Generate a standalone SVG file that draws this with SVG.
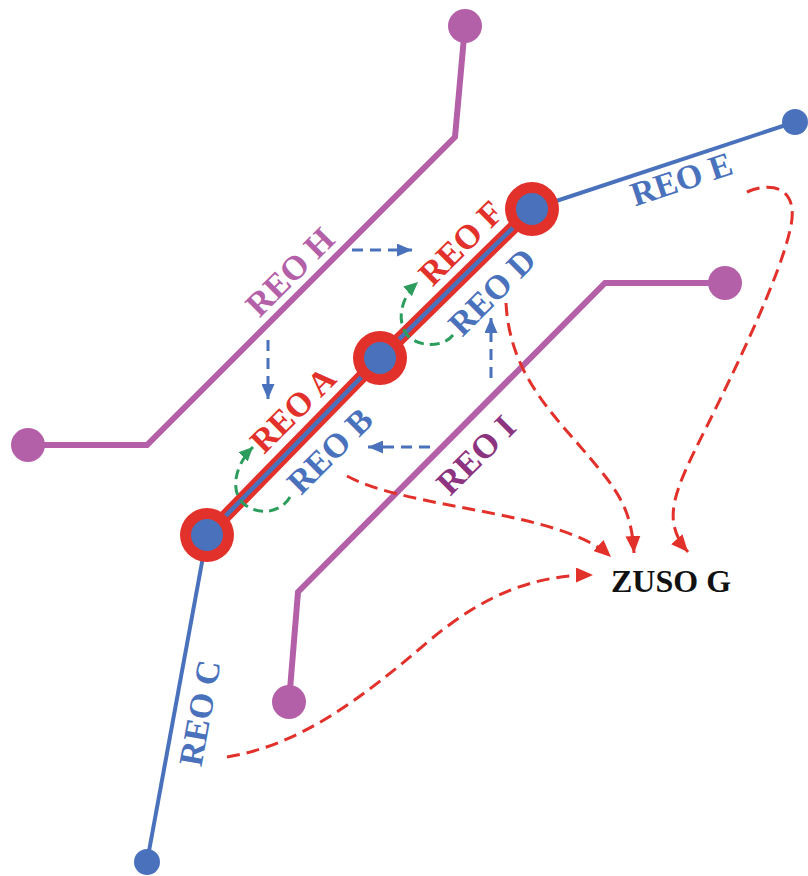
<svg xmlns="http://www.w3.org/2000/svg" width="808" height="876" viewBox="0 0 808 876">
<style>
.lbl{font-family:"Liberation Serif","Times New Roman",serif;font-weight:bold;font-size:34px;text-anchor:middle}
.pur{fill:none;stroke:#B460A8;stroke-width:6;stroke-linejoin:miter}
.blu{fill:none;stroke:#4A72BC;stroke-width:4}
.rdash{fill:none;stroke:#E2302A;stroke-width:3;stroke-dasharray:13 7}
.bdash{fill:none;stroke:#4A72BC;stroke-width:3;stroke-dasharray:11 7}
.gdash{fill:none;stroke:#2C9D5C;stroke-width:3;stroke-dasharray:10 6}
</style>
<defs>
<marker id="ar" markerUnits="userSpaceOnUse" markerWidth="17" markerHeight="15" refX="17" refY="7.5" orient="auto"><path d="M0,0 L17,7.5 L0,15 z" fill="#E2302A"/></marker>
<marker id="ab" markerUnits="userSpaceOnUse" markerWidth="15" markerHeight="13" refX="15" refY="6.5" orient="auto"><path d="M0,0 L15,6.5 L0,13 z" fill="#4A72BC"/></marker>
<marker id="ag" markerUnits="userSpaceOnUse" markerWidth="14" markerHeight="13" refX="14" refY="6.5" orient="auto"><path d="M0,0 L14,6.5 L0,13 z" fill="#2C9D5C"/></marker>
</defs>
<rect width="808" height="876" fill="#ffffff"/>

<g id="reo-h">
<polyline class="pur" points="465,26 455,137 147,445 28,445"/>
<circle cx="465" cy="26" r="17" fill="#B460A8"/>
<circle cx="28" cy="445" r="17" fill="#B460A8"/>
<text class="lbl" fill="#B460A8" transform="translate(298,280) rotate(-45)">REO H</text>
</g>

<g id="reo-i">
<polyline class="pur" points="725,283 605,283 298,592 289,702"/>
<circle cx="725" cy="283" r="17" fill="#B460A8"/>
<circle cx="289" cy="702" r="17" fill="#B460A8"/>
<text class="lbl" fill="#8C3480" transform="translate(484,463) rotate(-45)">REO I</text>
</g>

<g id="reo-c">
<line class="blu" x1="207" y1="535" x2="147" y2="862"/>
<circle cx="147" cy="862" r="13" fill="#4A72BC"/>
<text class="lbl" fill="#4A72BC" transform="translate(211,715) rotate(-79.6)">REO C</text>
</g>

<g id="reo-e">
<line class="blu" x1="532" y1="209" x2="795" y2="122"/>
<circle cx="795" cy="122" r="13" fill="#4A72BC"/>
<text class="lbl" fill="#4A72BC" transform="translate(685,190) rotate(-18.4)">REO E</text>
</g>

<g id="reo-ab">
<line x1="207" y1="535" x2="380" y2="358" stroke="#E2302A" stroke-width="13"/>
<line x1="207" y1="535" x2="380" y2="358" stroke="#4A72BC" stroke-width="4.5"/>
<text class="lbl" fill="#E2302A" transform="translate(301,418) rotate(-45)">REO A</text>
<text class="lbl" fill="#4A72BC" transform="translate(338,459) rotate(-45)">REO B</text>
</g>

<g id="reo-fd">
<line x1="380" y1="358" x2="532" y2="209" stroke="#E2302A" stroke-width="13"/>
<line x1="380" y1="358" x2="532" y2="209" stroke="#4A72BC" stroke-width="4.5"/>
<text class="lbl" fill="#E2302A" transform="translate(469,251) rotate(-45)">REO F</text>
<text class="lbl" fill="#4A72BC" transform="translate(500,300) rotate(-45)">REO D</text>
</g>

<g id="node-1">
<circle cx="207" cy="535" r="27" fill="#E2302A"/>
<circle cx="207" cy="535" r="16" fill="#4A72BC"/>
</g>
<g id="node-2">
<circle cx="380" cy="358" r="27" fill="#E2302A"/>
<circle cx="380" cy="358" r="16" fill="#4A72BC"/>
</g>
<g id="node-3">
<circle cx="532" cy="209" r="27" fill="#E2302A"/>
<circle cx="532" cy="209" r="16" fill="#4A72BC"/>
</g>

<g id="zuso-g">
<text x="671" y="592" font-family="Liberation Serif, Times New Roman, serif" font-weight="bold" font-size="32" text-anchor="middle" fill="#111111">ZUSO G</text>
</g>

<g id="connectors">
<path class="bdash" d="M352,250 L412,250" marker-end="url(#ab)"/>
<path class="bdash" d="M268,340 L268,399" marker-end="url(#ab)"/>
<path class="bdash" d="M491,378 L491,318" marker-end="url(#ab)"/>
<path class="bdash" d="M430,447 L368,447" marker-end="url(#ab)"/>
<path class="gdash" d="M290,497 C281,513 258,516 244,504 C230,492 234,466 253,447" marker-end="url(#ag)"/>
<path class="gdash" d="M453,335 C444,347 420,348 408,336 C396,322 400,298 418,282" marker-end="url(#ag)"/>
<path class="rdash" d="M347,476 C410,510 560,510 611,557" marker-end="url(#ar)"/>
<path class="rdash" d="M506,303 C510,380 560,420 600,470 C625,500 632,520 634,553" marker-end="url(#ar)"/>
<path class="rdash" d="M747,192 C775,180 800,190 790,230 C780,275 740,360 705,430 C675,490 660,520 688,552" marker-end="url(#ar)"/>
<path class="rdash" d="M227,757 C300,745 360,700 430,640 C490,590 540,575 593,575" marker-end="url(#ar)"/>
</g>
</svg>
